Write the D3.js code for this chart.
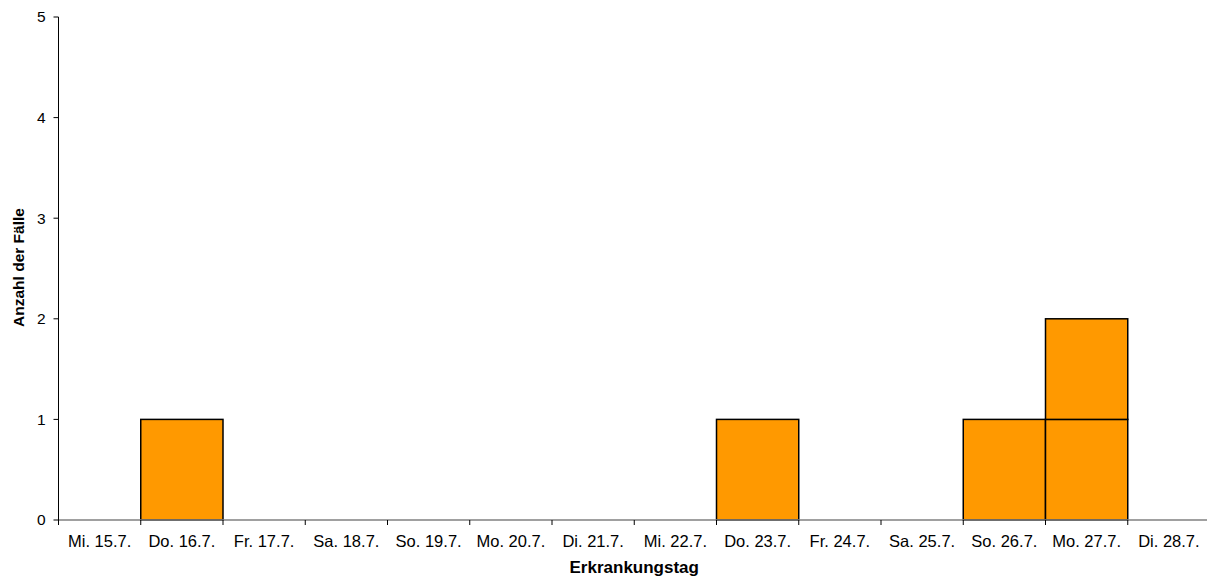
<!DOCTYPE html>
<html><head><meta charset="utf-8">
<script src="https://cdn.jsdelivr.net/npm/d3@7"></script>
<style>body{margin:0;background:#fff;}svg{display:block;font-family:"Liberation Sans",Arial,sans-serif;}</style>
</head><body>
<svg id="c" width="1207" height="577"></svg>
<script>
const categories = ["Mi. 15.7.","Do. 16.7.","Fr. 17.7.","Sa. 18.7.","So. 19.7.","Mo. 20.7.","Di. 21.7.","Mi. 22.7.","Do. 23.7.","Fr. 24.7.","Sa. 25.7.","So. 26.7.","Mo. 27.7.","Di. 28.7."];
const cases = [0,1,0,0,0,0,0,0,1,0,0,1,2,0];
const yTicks = [0,1,2,3,4,5];

const svg = d3.select("#c");
const x0 = 58.5, x1 = 1210, yTop = 17, yBot = 520;
const x = d3.scaleBand().domain(categories).range([x0, x1]).padding(0);
const y = d3.scaleLinear().domain([0,5]).range([yBot, yTop]);

// unit boxes
const boxes = [];
categories.forEach((c,i)=>{ for(let k=0;k<cases[i];k++) boxes.push({c,k}); });
svg.append("g").selectAll("rect").data(boxes).join("rect")
  .attr("x", d=>x(d.c)).attr("width", x.bandwidth())
  .attr("y", d=>y(d.k+1)).attr("height", d=>y(d.k)-y(d.k+1))
  .attr("fill","#FF9900").attr("stroke","#000").attr("stroke-width",1.5);

// x axis
const xa = svg.append("g").attr("transform",`translate(0,${yBot})`);
xa.append("line").attr("x1",x0).attr("x2",x1).attr("stroke","#808080").attr("stroke-width",1.5);
xa.selectAll(".t").data(categories).join("line")
  .attr("x1",d=>x(d)).attr("x2",d=>x(d)).attr("y1",0).attr("y2",5).attr("stroke","#000");
xa.selectAll("text").data(categories).join("text")
  .attr("x",d=>x(d)+x.bandwidth()/2).attr("y",27).attr("text-anchor","middle")
  .attr("font-size",16.5).attr("fill","#000").text(d=>d);

// y axis
const ya = svg.append("g");
ya.append("line").attr("x1",x0).attr("x2",x0).attr("y1",yTop).attr("y2",yBot).attr("stroke","#000").attr("stroke-width",1);
ya.selectAll(".t").data(yTicks).join("line")
  .attr("x1",x0-5).attr("x2",x0).attr("y1",d=>y(d)).attr("y2",d=>y(d)).attr("stroke","#000");
ya.selectAll("text").data(yTicks).join("text")
  .attr("x",x0-13).attr("y",d=>y(d)).attr("dy","0.35em").attr("text-anchor","end")
  .attr("font-size",15.5).attr("fill","#000").text(d=>d);

// titles
svg.append("text").attr("x",(x0+x1)/2).attr("y",573).attr("text-anchor","middle")
  .attr("font-size",17).attr("font-weight","bold").text("Erkrankungstag");
svg.append("text").attr("transform",`translate(24,267.5) rotate(-90)`).attr("text-anchor","middle")
  .attr("font-size",15.5).attr("font-weight","bold").text("Anzahl der Fälle");
</script>
</body></html>
